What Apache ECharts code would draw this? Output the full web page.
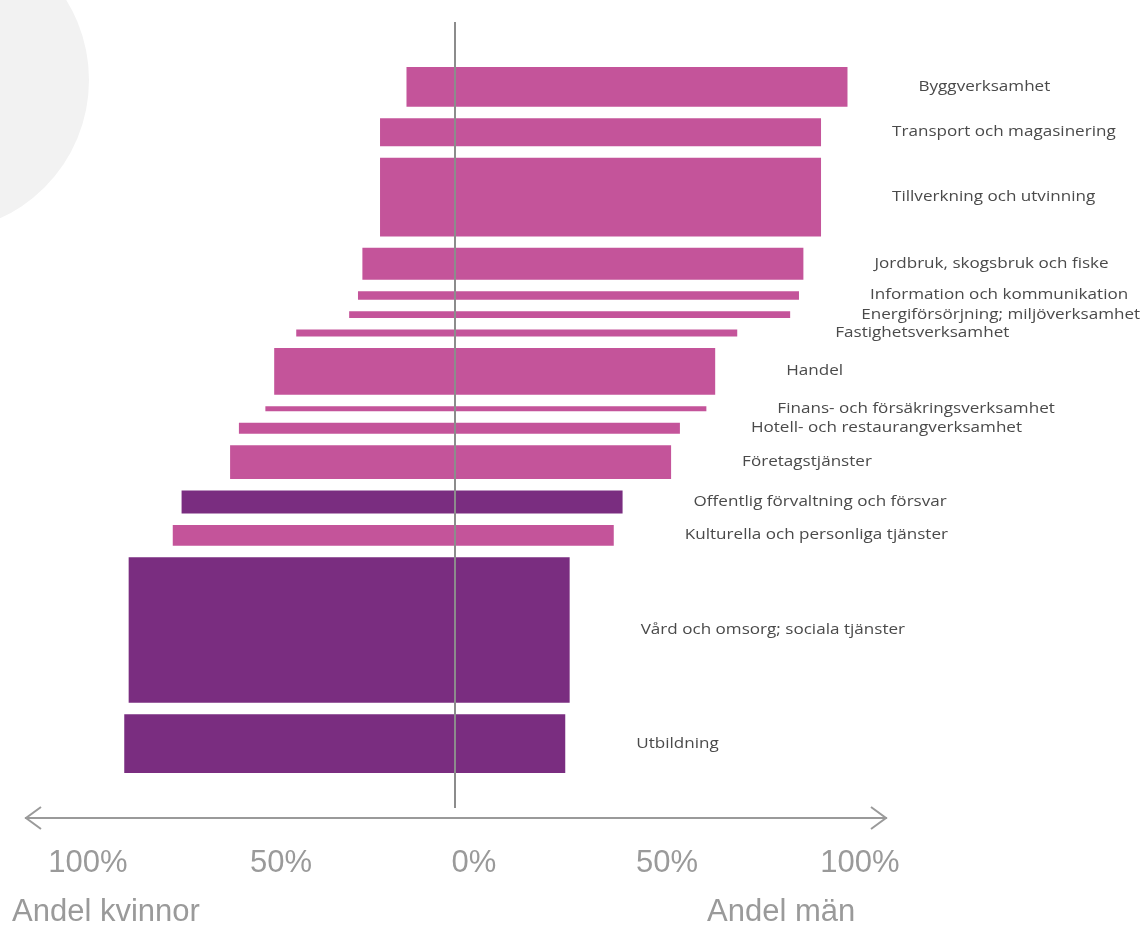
<!DOCTYPE html>
<html>
<head>
<meta charset="utf-8">
<script src="https://cdn.jsdelivr.net/npm/echarts@6/dist/echarts.min.js"></script>
<style>
  html, body { margin: 0; padding: 0; background: #ffffff; }
  #chart { width: 1146px; height: 928px; }
</style>
</head>
<body>
<div id="chart"></div>
<script>
// ---- Data ----
const categories = [
  'Byggverksamhet',
  'Transport och magasinering',
  'Tillverkning och utvinning',
  'Jordbruk, skogsbruk och fiske',
  'Information och kommunikation',
  'Energiförsörjning; miljöverksamhet',
  'Fastighetsverksamhet',
  'Handel',
  'Finans- och försäkringsverksamhet',
  'Hotell- och restaurangverksamhet',
  'Företagstjänster',
  'Offentlig förvaltning och försvar',
  'Kulturella och personliga tjänster',
  'Vård och omsorg; sociala tjänster',
  'Utbildning'
];
// Andel kvinnor (%)
const womenShare = [11, 17, 17, 21, 22, 24, 36, 41, 43, 49, 51, 62, 64, 74, 75];
// Andel män (%)
const menShare   = [89, 83, 83, 79, 78, 76, 64, 59, 57, 51, 49, 38, 36, 26, 25];
// Antal sysselsatta (relativ storlek, bestämmer stapelns tjocklek)
const employment = [40, 28, 79, 32, 8.5, 7, 7, 47, 5, 11, 34, 23, 21, 146, 59];
// Sektor (styr färg)
const sector = ['privat','privat','privat','privat','privat','privat','privat','privat',
                'privat','privat','privat','offentlig','privat','offentlig','offentlig'];
// Skala längst ned
const scaleTicks = [-100, -50, 0, 50, 100];
const leftTitle = 'Andel kvinnor';
const rightTitle = 'Andel män';

// ---- Styling / layout ----
const colors = { privat: '#C4549A', offentlig: '#7A2D80' };
const GAP = 11.5;            // space between bars (in y-units)
const LABEL_DX = 71;         // label offset from bar end (px)
const labelNudge = { 'Fastighetsverksamhet': 27 };

// build cumulative band positions
const seriesData = [];
let cursor = 0;
for (let i = 0; i < categories.length; i++) {
  const y0 = cursor;
  const y1 = cursor + employment[i];
  seriesData.push([-womenShare[i], menShare[i], y0, y1, i]);
  cursor = y1 + GAP;
}
const yMax = cursor - GAP;

const chart = echarts.init(document.getElementById('chart'), null, { renderer: 'canvas' });

const option = {
  animation: false,
  backgroundColor: '#ffffff',
  grid: [
    { left: 14, width: 882, top: 67, height: 706, containLabel: false },
    { left: 88, width: 772, top: 818, height: 1, containLabel: false }
  ],
  xAxis: [
    { type: 'value', gridIndex: 0, min: -100, max: 100, show: false },
    {
      type: 'value', gridIndex: 1, min: -100, max: 100, interval: 50,
      axisLine: { show: false }, axisTick: { show: false }, splitLine: { show: false },
      axisLabel: {
        show: true, margin: 44, verticalAlign: 'middle',
        color: '#9a9a9a', fontSize: 31, fontFamily: 'Liberation Sans, Arial, sans-serif',
        formatter: v => scaleTicks.indexOf(v) >= 0 ? Math.abs(v) + '%' : ''
      }
    }
  ],
  yAxis: [
    { type: 'value', gridIndex: 0, min: 0, max: yMax, inverse: true, show: false },
    { type: 'value', gridIndex: 1, show: false }
  ],
  series: [{
    type: 'custom',
    xAxisIndex: 0, yAxisIndex: 0,
    data: seriesData,
    encode: { x: [0, 1], y: [2, 3] },
    renderItem: function (params, api) {
      const idx = api.value(4);
      const pL = api.coord([api.value(0), api.value(2)]);
      const pR = api.coord([api.value(1), api.value(3)]);
      const name = categories[idx];
      const cy = (pL[1] + pR[1]) / 2;
      return {
        type: 'group',
        children: [
          {
            type: 'rect',
            shape: { x: pL[0], y: pL[1], width: pR[0] - pL[0], height: pR[1] - pL[1] },
            style: { fill: colors[sector[idx]] }
          },
          {
            type: 'text',
            x: pR[0] + LABEL_DX + (labelNudge[name] || 0),
            y: cy,
            scaleX: 1.22,
            style: {
              text: name,
              fill: '#4a4a4a',
              font: '14px "Open Sans", sans-serif',
              align: 'left',
              verticalAlign: 'middle'
            }
          }
        ]
      };
    }
  }],
  graphic: []
};
chart.setOption(option);

// decorative elements: background circle, centre line, double arrow, titles
const x0 = chart.convertToPixel({ xAxisIndex: 0 }, 0);
chart.setOption({
  graphic: [
    { type: 'circle', z: -10, silent: true, shape: { cx: -63, cy: 80, r: 152 }, style: { fill: '#f2f2f2' } },
    { type: 'line', z: 10, shape: { x1: x0, y1: 22, x2: x0, y2: 808 }, style: { stroke: '#8c8c8c', lineWidth: 2 } },
    { type: 'line', shape: { x1: 25, y1: 818, x2: 887, y2: 818 }, style: { stroke: '#9a9a9a', lineWidth: 2 } },
    { type: 'polyline', shape: { points: [[41, 807], [26, 818], [41, 829]] }, style: { stroke: '#9a9a9a', lineWidth: 2, fill: null } },
    { type: 'polyline', shape: { points: [[871, 807], [886, 818], [871, 829]] }, style: { stroke: '#9a9a9a', lineWidth: 2, fill: null } },
    { type: 'text', x: 12, y: 912, style: { text: leftTitle, fill: '#9a9a9a', font: '31px "Liberation Sans", Arial, sans-serif', verticalAlign: 'middle' } },
    { type: 'text', x: 707, y: 912, style: { text: rightTitle, fill: '#9a9a9a', font: '31px "Liberation Sans", Arial, sans-serif', verticalAlign: 'middle' } }
  ]
});
</script>
</body>
</html>
